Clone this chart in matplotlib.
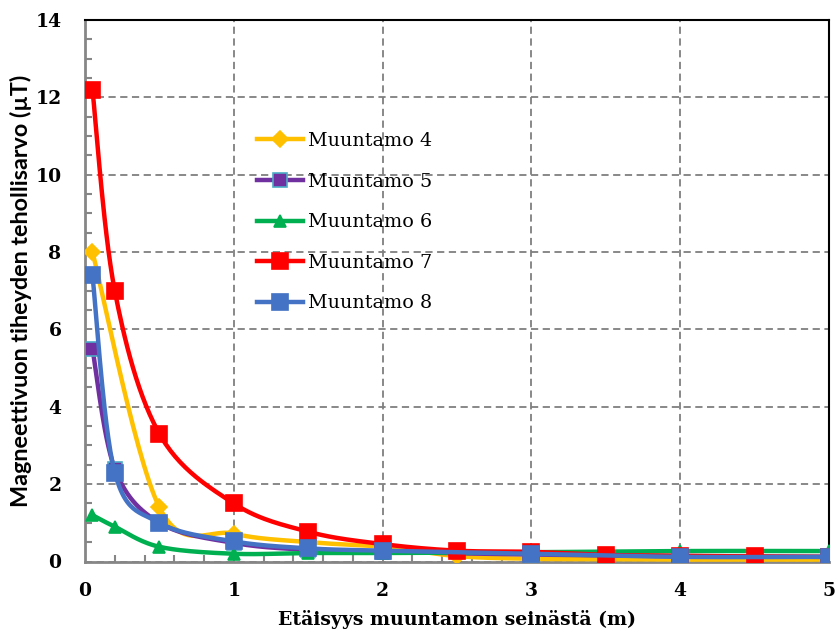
import numpy as np
import matplotlib
matplotlib.use("Agg")
import matplotlib.pyplot as plt
from matplotlib.ticker import MultipleLocator

# Measured flux density values (µT) against distance from the substation wall (m)
dist_full = [0.05, 0.2, 0.5, 1, 1.5, 2, 2.5, 3, 3.5, 4, 4.5, 5]
dist_m4 = [0.05, 0.5, 1, 1.5, 2, 2.5, 3, 3.5, 4, 4.5, 5]
dist_short = [0.05, 0.2, 0.5, 1, 1.5, 2, 3, 4, 5]

m4 = [8.0, 1.4, 0.72, 0.5, 0.38, 0.14, 0.07, 0.06, 0.05, 0.05, 0.05]
m5 = [5.5, 2.4, 1.0, 0.48, 0.3, 0.25, 0.18, 0.14, 0.12]
m6 = [1.2, 0.9, 0.38, 0.2, 0.22, 0.22, 0.24, 0.27, 0.27]
m7 = [12.2, 7.0, 3.3, 1.5, 0.77, 0.45, 0.28, 0.25, 0.17, 0.15, 0.13, 0.12]
m8 = [7.4, 2.3, 1.0, 0.52, 0.34, 0.28, 0.2, 0.12, 0.12]

labels = ["Muuntamo 4", "Muuntamo 5", "Muuntamo 6", "Muuntamo 7", "Muuntamo 8"]
colors = ["#FFC000", "#7030A0", "#00B050", "#FF0000", "#4472C4"]
edges = ["#FFC000", "#4BACC6", "#00B050", "#FF0000", "#4472C4"]
markers = ["D", "s", "^", "s", "s"]
msizes = [8, 10, 9, 12, 11]

W, H, DPI = 835, 633, 100
fig = plt.figure(figsize=(W / DPI, H / DPI), dpi=DPI)
left, right, top, bottom = 85, 829, 20, 561.5
ax = fig.add_axes([left / W, 1 - bottom / H, (right - left) / W, (bottom - top) / H])

XMAX, YMAX = 5, 14
sx = (right - left) / XMAX
sy = (bottom - top) / YMAX


def smooth_path(xs, ys, n=30):
    """Bezier smoothing (Catmull-Rom style) evaluated in screen proportions."""
    px = np.asarray(xs, float) * sx
    py = np.asarray(ys, float) * sy
    pts = np.column_stack([px, py])
    out = [pts[0]]
    t = np.linspace(0, 1, n)[1:, None]
    for i in range(len(pts) - 1):
        p0 = pts[i - 1] if i > 0 else pts[i]
        p1 = pts[i]
        p2 = pts[i + 1]
        p3 = pts[i + 2] if i + 2 < len(pts) else pts[i + 1]
        c1 = p1 + (p2 - p0) / 6
        c2 = p2 - (p3 - p1) / 6
        seg = ((1 - t) ** 3) * p1 + 3 * ((1 - t) ** 2) * t * c1 + 3 * (1 - t) * t ** 2 * c2 + t ** 3 * p2
        out.extend(seg)
    out = np.array(out)
    return out[:, 0] / sx, out[:, 1] / sy


series = [(dist_m4, m4), (dist_short, m5), (dist_short, m6), (dist_full, m7), (dist_short, m8)]
for k, (xs, ys) in enumerate(series):
    cx, cy = smooth_path(xs, ys)
    ax.plot(cx, cy, color=colors[k], lw=3.2, solid_capstyle="round", zorder=3 + k)
    ax.plot(xs, ys, ls="none", marker=markers[k], ms=msizes[k], mfc=colors[k],
            mec=edges[k], mew=1.2, zorder=3 + k)
    ax.plot([], [], color=colors[k], lw=3.2, marker=markers[k], ms=msizes[k],
            mfc=colors[k], mec=edges[k], mew=1.2, label=labels[k])

ax.set_xlim(0, XMAX)
ax.set_ylim(0, YMAX)
ax.xaxis.set_major_locator(MultipleLocator(1))
ax.yaxis.set_major_locator(MultipleLocator(2))
ax.xaxis.set_minor_locator(MultipleLocator(0.2))
ax.yaxis.set_minor_locator(MultipleLocator(0.5))

ax.grid(True, which="major", color="#7F7F7F", ls=(0, (4, 2.5)), lw=1.3, zorder=1)
ax.tick_params(axis="x", which="major", direction="in", length=0, pad=15)
ax.tick_params(axis="y", which="major", direction="in", length=0, pad=17)
ax.tick_params(axis="both", which="minor", direction="in", length=5, width=1.5, color="#868686")

serif = ["DejaVu Serif"]
for lab in ax.get_xticklabels() + ax.get_yticklabels():
    lab.set_fontfamily(serif)
    lab.set_fontweight("bold")
    lab.set_fontsize(13.5)

for side in ("left", "bottom"):
    ax.spines[side].set_color("#868686")
    ax.spines[side].set_linewidth(2)
for side in ("top", "right"):
    ax.spines[side].set_color("black")
    ax.spines[side].set_linewidth(1.5)

ax.set_xlabel("Etäisyys muuntamon seinästä (m)", family=serif, fontweight="bold",
              fontsize=13.6, labelpad=7)
ax.set_ylabel("Magneettivuon tiheyden tehollisarvo (µT)", family=["Lato", "DejaVu Sans"],
              fontweight="bold", fontsize=16.8, labelpad=2)

leg = ax.legend(loc="upper left", bbox_to_anchor=(257 / W, 1 - 132 / H),
                bbox_transform=fig.transFigure,
                frameon=False, prop={"family": serif, "size": 13.8},
                handlelength=2.4, handletextpad=0.25, labelspacing=1.18,
                borderpad=0, borderaxespad=0)
leg.set_zorder(20)

fig.savefig("out.png", dpi=DPI)
